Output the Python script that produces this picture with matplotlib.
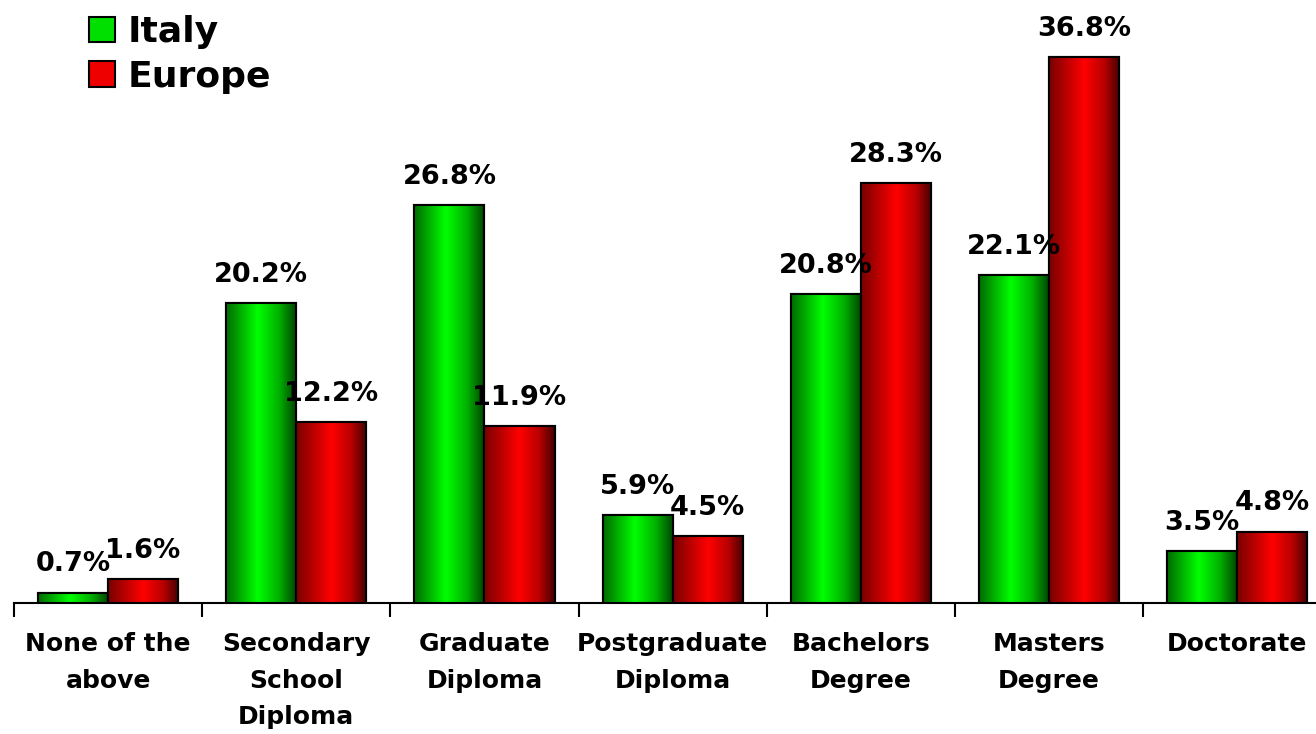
import numpy as np
import matplotlib
matplotlib.use("Agg")
import matplotlib.pyplot as plt
from matplotlib.colors import LinearSegmentedColormap
from matplotlib.patches import Rectangle

categories = ["None of the\nabove", "Secondary\nSchool\nDiploma", "Graduate\nDiploma",
              "Postgraduate\nDiploma", "Bachelors\nDegree", "Masters\nDegree", "Doctorate"]
italy = [0.7, 20.2, 26.8, 5.9, 20.8, 22.1, 3.5]
europe = [1.6, 12.2, 11.9, 4.5, 28.3, 36.8, 4.8]
series_names = ["Italy", "Europe"]

plt.rcParams['font.family'] = ['DejaVu Sans']
fig = plt.figure(figsize=(13.16, 7.34), dpi=100)
W, H = 1316, 734
ax = fig.add_axes([14 / W, (734 - 603) / H, 7 * 188.2 / W, 603 / H])

green_cmap = LinearSegmentedColormap.from_list(
    "g", [(0, "#006a00"), (0.45, "#00ff00"), (0.75, "#00b000"), (1, "#004000")])
red_cmap = LinearSegmentedColormap.from_list(
    "r", [(0, "#780000"), (0.5, "#ff0000"), (0.78, "#b80000"), (1, "#420000")])

x = np.arange(len(categories))
bw = 0.372
b1 = ax.bar(x - bw / 2, italy, bw, color="#00dd00", edgecolor="black", linewidth=1.5, zorder=3)
b2 = ax.bar(x + bw / 2, europe, bw, color="#ee0000", edgecolor="black", linewidth=1.5, zorder=3)

grad = np.linspace(0, 1, 256).reshape(1, -1)
for bars, cmap in ((b1, green_cmap), (b2, red_cmap)):
    for p in bars:
        x0, y0 = p.get_x(), p.get_y()
        im = ax.imshow(grad, cmap=cmap, aspect="auto", zorder=3.5,
                       extent=[x0, x0 + p.get_width(), y0, y0 + p.get_height()])
        im.set_clip_path(p)
        edge = Rectangle((x0, y0), p.get_width(), p.get_height(), fill=False,
                         edgecolor="black", linewidth=1.5, zorder=4)
        ax.add_patch(edge)

for bars, vals in ((b1, italy), (b2, europe)):
    for p, v in zip(bars, vals):
        ax.annotate(f"{v:.1f}%", (p.get_x() + p.get_width() / 2, v),
                    xytext=(0, 11), textcoords="offset points",
                    ha="center", va="bottom", fontsize=19.5, fontweight="bold", zorder=5)

ax.set_xlim(-0.5, len(categories) - 0.5)
ax.set_ylim(0, 603 / 14.84)

ax.set_xticks(np.arange(len(categories)) - 0.5)
ax.set_xticklabels([])
ax.tick_params(axis="x", which="major", length=10, width=1.5, direction="out", color="black")
ax.set_xticks(x, minor=True)
ax.set_xticklabels(categories, minor=True, fontsize=18, fontweight="bold", linespacing=1.66)
ax.tick_params(axis="x", which="minor", length=0, pad=21)
for lbl in ax.get_xticklabels(minor=True):
    lbl.set_verticalalignment("top")

ax.set_yticks([])
for s in ("top", "right", "left"):
    ax.spines[s].set_visible(False)
ax.spines["bottom"].set_linewidth(1.5)

handles = [Rectangle((0, 0), 1, 1, facecolor="#00e000", edgecolor="black", linewidth=1.5),
           Rectangle((0, 0), 1, 1, facecolor="#ee0000", edgecolor="black", linewidth=1.5)]
leg = fig.legend(handles, series_names, loc="upper left", bbox_to_anchor=(89 / W, 1 - 15 / H),
                 frameon=False, prop={"size": 26, "weight": "bold"},
                 handlelength=0.72, handleheight=0.72, handletextpad=0.36, labelspacing=0.3,
                 borderaxespad=0, borderpad=0)

fig.savefig("out.png", dpi=100)
